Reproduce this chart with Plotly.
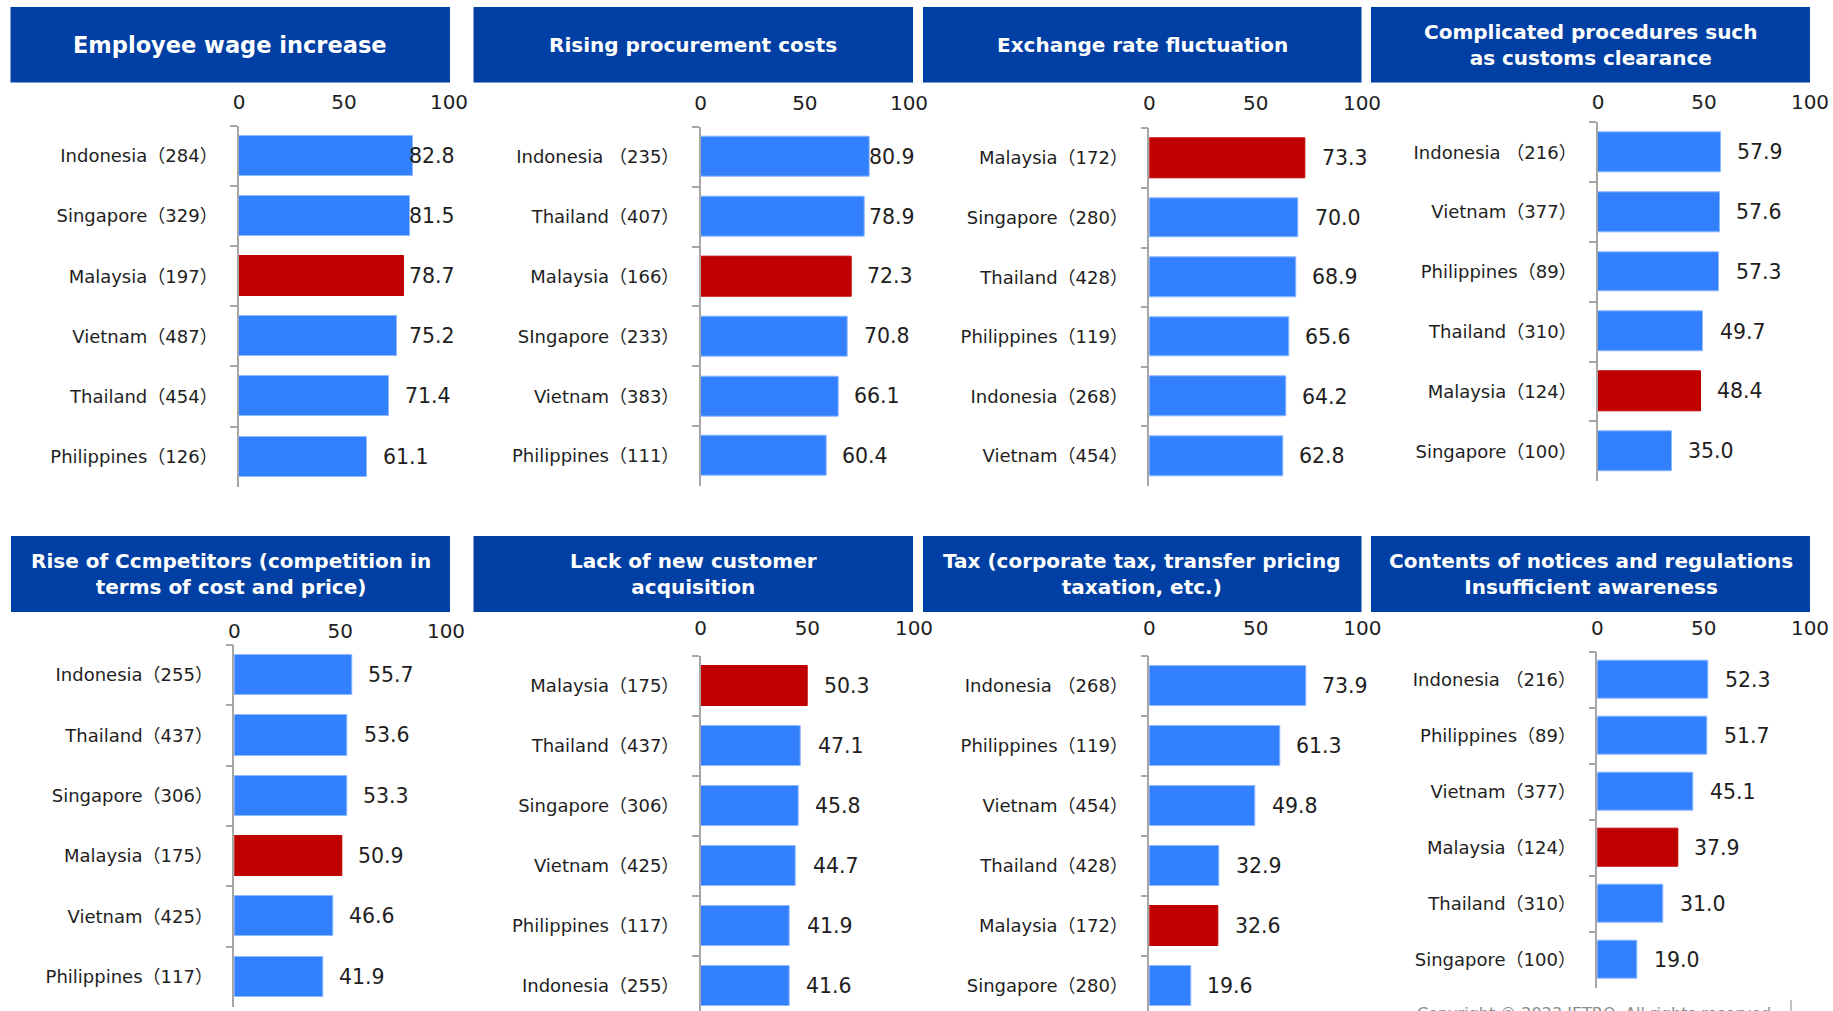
import plotly.graph_objects as go

# ---- data: share of respondents (%) per issue, with sample size in the label ----
wage_labels = ["Indonesia（284）", "Singapore（329）", "Malaysia（197）",
               "Vietnam（487）", "Thailand（454）", "Philippines（126）"]
wage_values = [82.8, 81.5, 78.7, 75.2, 71.4, 61.1]

procurement_labels = ["Indonesia （235）", "Thailand（407）", "Malaysia（166）",
                      "SIngapore（233）", "Vietnam（383）", "Philippines（111）"]
procurement_values = [80.9, 78.9, 72.3, 70.8, 66.1, 60.4]

exchange_labels = ["Malaysia（172）", "Singapore（280）", "Thailand（428）",
                   "Philippines（119）", "Indonesia（268）", "Vietnam（454）"]
exchange_values = [73.3, 70.0, 68.9, 65.6, 64.2, 62.8]

customs_labels = ["Indonesia （216）", "Vietnam（377）", "Philippines（89）",
                  "Thailand（310）", "Malaysia（124）", "Singapore（100）"]
customs_values = [57.9, 57.6, 57.3, 49.7, 48.4, 35.0]

competitor_labels = ["Indonesia（255）", "Thailand（437）", "Singapore（306）",
                     "Malaysia（175）", "Vietnam（425）", "Philippines（117）"]
competitor_values = [55.7, 53.6, 53.3, 50.9, 46.6, 41.9]

customer_labels = ["Malaysia（175）", "Thailand（437）", "Singapore（306）",
                   "Vietnam（425）", "Philippines（117）", "Indonesia（255）"]
customer_values = [50.3, 47.1, 45.8, 44.7, 41.9, 41.6]

tax_labels = ["Indonesia （268）", "Philippines（119）", "Vietnam（454）",
              "Thailand（428）", "Malaysia（172）", "Singapore（280）"]
tax_values = [73.9, 61.3, 49.8, 32.9, 32.6, 19.6]

notice_labels = ["Indonesia （216）", "Philippines（89）", "Vietnam（377）",
                 "Malaysia（124）", "Thailand（310）", "Singapore（100）"]
notice_values = [52.3, 51.7, 45.1, 37.9, 31.0, 19.0]

titles = [
    "Employee wage increase",
    "Rising procurement costs",
    "Exchange rate fluctuation",
    "Complicated procedures such<br>as customs clearance",
    "Rise of Ccmpetitors (competition in<br>terms of cost and price)",
    "Lack of new customer<br>acquisition",
    "Tax (corporate tax, transfer pricing<br>taxation, etc.)",
    "Contents of notices and regulations<br>Insufficient awareness",
]
axis_ticks = [0, 50, 100]
highlight_country = "Malaysia"

# ---- layout geometry (pixels) ----
W, H = 1833, 1011
FONT = "DejaVu Sans, Noto Sans CJK JP, sans-serif"
HEADER_BLUE = "#003FA3"
BAR_BLUE = "#3380FF"
BAR_RED = "#C00000"
AXIS_GREY = "#A6A6A6"
TEXT = "#1E1E1E"

# header boxes: x0, x1, y0, y1, title font size
headers = [
    (10.5, 450, 7, 82.5, 22.5),
    (473.5, 913, 7, 82.5, 20),
    (923, 1361.5, 7, 82.5, 20),
    (1371, 1810, 7, 82.5, 20),
    (11, 450, 536, 612, 20),
    (473.5, 913, 536, 612, 20),
    (923, 1361.5, 536, 612, 20),
    (1371, 1810, 536, 612, 20),
]
# plot areas: zero x, hundred x, top y, band height, x tick label gap
plots = [
    (239.0, 449.0, 126.0, 60.1, 12),
    (700.7, 909.0, 126.7, 59.9, 12),
    (1149.3, 1362.0, 128.3, 59.6, 13),
    (1598.0, 1810.0, 122.3, 59.8, 8),
    (234.3, 446.0, 645.0, 60.3, 2),
    (700.7, 914.0, 656.0, 60.0, 16),
    (1149.3, 1362.3, 656.0, 60.0, 16),
    (1597.3, 1810.0, 651.7, 56.0, 12),
]

series = [
    (wage_labels, wage_values),
    (procurement_labels, procurement_values),
    (exchange_labels, exchange_values),
    (customs_labels, customs_values),
    (competitor_labels, competitor_values),
    (customer_labels, customer_values),
    (tax_labels, tax_values),
    (notice_labels, notice_values),
]

fig = go.Figure()
shapes, annotations = [], []

for i, ((labels, values), (hx0, hx1, hy0, hy1, tsize), (px0, px100, ptop, band, tgap), title) in \
        enumerate(zip(series, headers, plots, titles), start=1):
    xa = "x" if i == 1 else f"x{i}"
    ya = "y" if i == 1 else f"y{i}"

    colors = [BAR_RED if highlight_country in lab else BAR_BLUE for lab in labels]
    lines = [BAR_RED if highlight_country in lab else "#8FB8FF" for lab in labels]
    fig.add_trace(go.Bar(
        x=values, y=labels, orientation="h",
        width=0.667, xaxis=xa, yaxis=ya,
        marker=dict(color=colors, line=dict(color=lines, width=1)),
        hoverinfo="skip", showlegend=False,
    ))

    # plot area bounds (the lower charts run past the bottom edge)
    n = len(labels)
    pbot = ptop + band * n
    if pbot > H:
        bottom_idx = -0.5 + (H - ptop) / band
        pbot = H
    else:
        bottom_idx = n - 0.5
    xdom = [px0 / W, px100 / W]
    ydom = [max(0.0, 1 - pbot / H), 1 - ptop / H]

    layout_x = dict(domain=xdom, range=[0, 100], side="top", anchor=ya,
                    tickvals=axis_ticks, ticktext=[str(t) for t in axis_ticks],
                    showgrid=False, zeroline=False, showline=False, ticks="",
                    ticklabelstandoff=tgap, automargin=False,
                    tickfont=dict(family=FONT, size=20, color=TEXT), fixedrange=True)
    layout_y = dict(domain=ydom, type="category", categoryorder="array",
                    categoryarray=labels, range=[bottom_idx, -0.5], anchor=xa,
                    showgrid=False, zeroline=False, showline=True,
                    linecolor=AXIS_GREY, linewidth=1.5,
                    ticks="outside", tickson="boundaries", ticklen=7,
                    tickcolor=AXIS_GREY, tickwidth=1.5,
                    ticklabelstandoff=16, automargin=False,
                    tickfont=dict(family=FONT, size=18, color=TEXT), fixedrange=True)
    fig.update_layout(**{("xaxis" if i == 1 else f"xaxis{i}"): layout_x,
                         ("yaxis" if i == 1 else f"yaxis{i}"): layout_y})

    # value labels beside each bar
    for k, v in enumerate(values):
        annotations.append(dict(
            x=min(v + 18.5, 92), y=k, xref=xa, yref=ya,
            text=f"{v:.1f}", showarrow=False, xanchor="center", yanchor="middle",
            font=dict(family=FONT, size=20.5, color=TEXT),
        ))

    # header box with title
    shapes.append(dict(type="rect", xref="paper", yref="paper",
                       x0=hx0 / W, x1=hx1 / W, y0=1 - hy1 / H, y1=1 - hy0 / H,
                       fillcolor=HEADER_BLUE, line=dict(width=0), layer="below"))
    annotations.append(dict(
        x=(hx0 + hx1) / 2 / W, y=1 - (hy0 + hy1) / 2 / H, xref="paper", yref="paper",
        text=title, showarrow=False, xanchor="center", yanchor="middle",
        font=dict(family=FONT, size=tsize, color="white", weight="bold"),
    ))

# footer
annotations.append(dict(
    x=1415 / W, y=1 - 1002 / H, xref="paper", yref="paper",
    text="Copyright © 2023 JETRO. All rights reserved.", showarrow=False,
    xanchor="left", yanchor="top", font=dict(family=FONT, size=16, color="#8C8C8C"),
))
shapes.append(dict(type="line", xref="paper", yref="paper",
                   x0=1791 / W, x1=1791 / W, y0=0, y1=1 - 1000 / H,
                   line=dict(color="#B0B0B0", width=1.5)))

fig.update_layout(
    width=W, height=H, autosize=False, margin=dict(l=0, r=0, t=0, b=0, pad=0),
    paper_bgcolor="white", plot_bgcolor="rgba(0,0,0,0)",
    shapes=shapes, annotations=annotations, bargap=0,
    font=dict(family=FONT, color=TEXT),
)

fig.write_html("out.html", config={"displayModeBar": False, "responsive": False})
